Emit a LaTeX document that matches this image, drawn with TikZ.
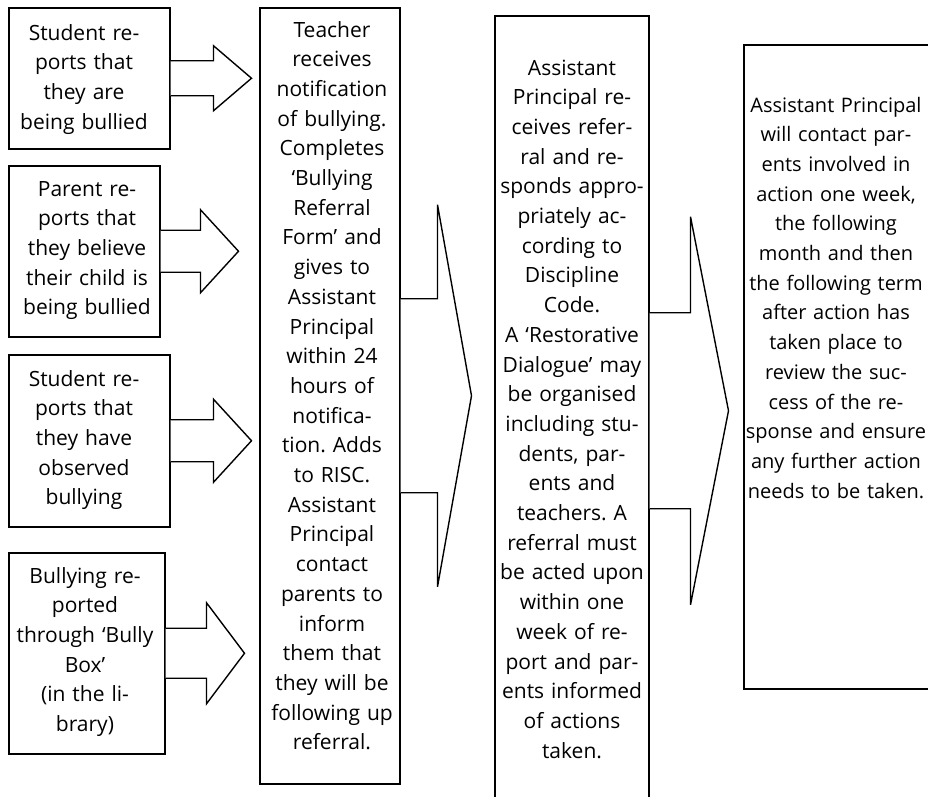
\documentclass[tikz,border=0pt]{standalone}
\usepackage{fontspec}
\setmainfont{Open Sans}
\usetikzlibrary{calc}
\frenchspacing
\newcommand\myblockarrow[5]{%
  \draw[blockarrow] ($(#1.east)+(0,-#4)$) -- ++(#2,0) -- ++(0,{-(#5-#4)})
    -- ++(#3,#5) -- ++(-#3,#5) -- ++(0,{-(#5-#4)}) -- ++(-#2,0);}
\begin{document}
\begin{tikzpicture}[x=1pt,y=-1pt,
  box/.style={draw, line width=1.5pt, fill=white, inner sep=0pt, anchor=north west},
  txt/.style={align=center, inner sep=0pt, anchor=base,
    font=\fontsize{21}{29.7}\selectfont\frenchspacing},
  blockarrow/.style={draw, line width=1.4pt, fill=white, line join=miter}]
\useasboundingbox (0,0) rectangle (928,796);

% source boxes
\node[box, minimum width=161pt, minimum height=141pt] (b1) at (8,7) {};
\node[box, minimum width=151pt, minimum height=171pt] (b2) at (8,165) {};
\node[box, minimum width=161pt, minimum height=172pt] (b3) at (8,354) {};
\node[box, minimum width=156pt, minimum height=201pt] (b4) at (8,552) {};

% main boxes
\node[box, minimum width=140pt, minimum height=776pt] (t) at (259,7) {};
\node[box, minimum width=154pt, minimum height=790pt] (ap) at (494,15) {};
\node[box, minimum width=187pt, minimum height=644pt] (f) at (743,44) {};

% block arrows
\myblockarrow{b1}{43}{38}{17.5}{32.5}
\myblockarrow{b2}{40}{38}{21}{41.5}
\myblockarrow{b3}{43}{38}{21}{41.5}
\myblockarrow{b4}{41}{38}{25}{50.5}
\myblockarrow{t}{37}{34}{97}{191}
\myblockarrow{ap}{41}{38}{98}{194}

% texts
\node[txt, text width=158pt] (b1t) at (84,40)
  {Student re-\\ports that\\they are\\being bullied};
\node[txt, text width=150pt] (b2t) at (87,196)
  {Parent re-\\ports that\\they believe\\their child is\\being bullied};
\node[txt, text width=158pt] (b3t) at (84,386)
  {Student re-\\ports that\\they have\\observed\\bullying};
\node[txt, text width=154pt] (b4t) at (85,583)
  {Bullying re-\\ported\\through ‘Bully\\Box’\\(in the li-\\brary)};
\node[txt, text width=138pt] (tt) at (332,37)
  {Teacher\\receives\\notification\\of bullying.\\Completes\\‘Bullying\\Referral\\Form’ and\\gives to\\Assistant\\Principal\\within 24\\hours of\\notifica-\\tion. Adds\\to RISC.\\Assistant\\Principal\\contact\\parents to\\inform\\them that\\they will be\\following up\\referral.};
\node[txt, text width=152pt] (apt) at (572,75)
  {Assistant\\Principal re-\\ceives refer-\\ral and re-\\sponds appro-\\priately ac-\\cording to\\Discipline\\Code.\\A ‘Restorative\\Dialogue’ may\\be organised\\including stu-\\dents, par-\\ents and\\teachers. A\\referral must\\be acted upon\\within one\\week of re-\\port and par-\\ents informed\\of actions\\taken.};
\node[txt, text width=200pt, font=\fontsize{20}{29.7}\selectfont] (ft) at (836,112)
  {Assistant Principal\\will contact par-\\ents involved in\\action one week,\\the following\\month and then\\the following term\\after action has\\taken place to\\review the suc-\\cess of the re-\\sponse and ensure\\any further action\\needs to be taken.};
\end{tikzpicture}
\end{document}
